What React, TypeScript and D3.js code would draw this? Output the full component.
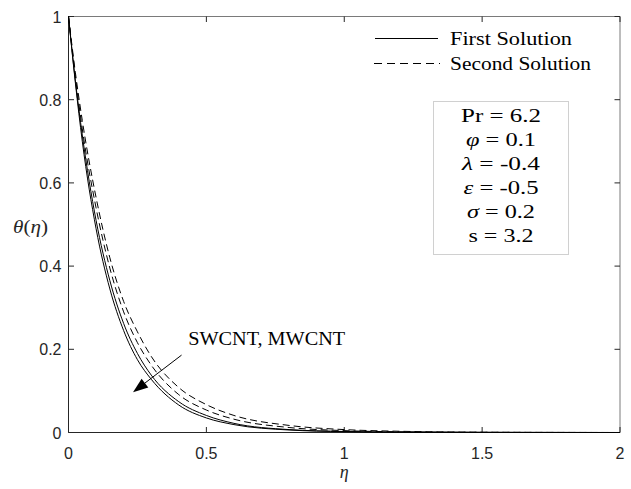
import React from "react";
import * as d3 from "d3";

const eta = [0, 0.025, 0.05, 0.1, 0.15, 0.2, 0.25, 0.3, 0.4, 0.5, 0.6, 0.8, 1.0, 1.2, 1.5, 2.0];
const swcntFirst = [1, 0.84, 0.70, 0.49, 0.345, 0.245, 0.175, 0.128, 0.066, 0.035, 0.019, 0.006, 0.002, 0.0007, 0.0002, 0];
const mwcntFirst = [1, 0.845, 0.715, 0.51, 0.365, 0.262, 0.19, 0.138, 0.074, 0.041, 0.022, 0.007, 0.0025, 0.0008, 0.0002, 0];
const swcntSecond = [1, 0.855, 0.73, 0.54, 0.395, 0.29, 0.216, 0.162, 0.091, 0.054, 0.032, 0.012, 0.0045, 0.0017, 0.0004, 0];
const mwcntSecond = [1, 0.865, 0.75, 0.565, 0.42, 0.315, 0.242, 0.183, 0.108, 0.067, 0.041, 0.017, 0.007, 0.003, 0.0008, 0];

const xTicks = [0, 0.5, 1, 1.5, 2];
const xTickLabels = ["0", "0.5", "1", "1.5", "2"];
const yTicks = [0, 0.2, 0.4, 0.6, 0.8, 1];
const yTickLabels = ["0", "0.2", "0.4", "0.6", "0.8", "1"];

const series = [
  { name: "SWCNT first", values: swcntFirst, dashed: false },
  { name: "MWCNT first", values: mwcntFirst, dashed: false },
  { name: "SWCNT second", values: swcntSecond, dashed: true },
  { name: "MWCNT second", values: mwcntSecond, dashed: true },
];

const legendLabels = ["First Solution", "Second Solution"];

const params = [
  { sym: "Pr", italic: false, val: "6.2" },
  { sym: "\u03C6", italic: true, val: "0.1" },
  { sym: "\u03BB", italic: true, val: "-0.4" },
  { sym: "\u03B5", italic: true, val: "-0.5" },
  { sym: "\u03C3", italic: true, val: "0.2" },
  { sym: "s", italic: false, val: "3.2" },
];
const paramWidths = [80, 70, 78, 75, 68, 65];

const annotText = "SWCNT, MWCNT";
const annotFrom = [0.41, 0.186];
const annotTip = [0.234, 0.097];
const annotLabel = [0.434, 0.21];

export default function App() {
  const W = 631, H = 489;
  const L = 68.5, R = 620, T = 16.5, B = 432.5;
  const x = d3.scaleLinear().domain([0, 2]).range([L, R]);
  const y = d3.scaleLinear().domain([0, 1]).range([B, T]);
  const line = d3
    .line<number>()
    .x((_, i) => x(eta[i]))
    .y((d) => y(d))
    .curve(d3.curveMonotoneX);
  const axisColor = "#262626";
  const serif = "'Liberation Serif', 'Times New Roman', serif";
  const sans = "'Liberation Sans', Arial, sans-serif";
  const tl = 5.5;

  // arrow
  const ax0 = x(annotFrom[0]), ay0 = y(annotFrom[1]);
  const ax1 = x(annotTip[0]), ay1 = y(annotTip[1]);
  const ang = Math.atan2(ay1 - ay0, ax1 - ax0);
  const hl = 15, hw = 5.5;
  const bx = ax1 - hl * Math.cos(ang), by = ay1 - hl * Math.sin(ang);
  const px = -Math.sin(ang), py = Math.cos(ang);
  const head = `${ax1},${ay1} ${bx + hw * px},${by + hw * py} ${bx - hw * px},${by - hw * py}`;

  const boxL = 433.5, boxR = 568.5, boxT = 101.5, boxB = 254.5;
  const cx = (boxL + boxR) / 2;

  return (
    <svg
      width={W}
      height={H}
      style={{ position: "absolute", left: 0, top: 0, background: "#fff" }}
    >
      <rect x={0} y={0} width={W} height={H} fill="#fff" />
      {/* box */}
      <line x1={L} x2={R} y1={T} y2={T} stroke="#7a7a7a" />
      <line x1={R} x2={R} y1={T} y2={B} stroke="#7a7a7a" />
      <line x1={L} x2={L} y1={T} y2={B} stroke={axisColor} />
      <line x1={L} x2={R} y1={B} y2={B} stroke={axisColor} />
      {/* ticks */}
      {xTicks.map((t, i) => (
        <g key={"xt" + i}>
          <line x1={x(t)} x2={x(t)} y1={B} y2={B - tl} stroke={axisColor} />
          <line x1={x(t)} x2={x(t)} y1={T} y2={T + tl} stroke={axisColor} />
          <text x={x(t)} y={B + 26} textAnchor="middle" fontFamily={sans} fontSize={16} fill={axisColor}>
            {xTickLabels[i]}
          </text>
        </g>
      ))}
      {yTicks.map((t, i) => (
        <g key={"yt" + i}>
          <line x1={L} x2={L + tl} y1={y(t)} y2={y(t)} stroke={axisColor} />
          <line x1={R} x2={R - tl} y1={y(t)} y2={y(t)} stroke={axisColor} />
          <text x={L - 7} y={y(t) + 6} textAnchor="end" fontFamily={sans} fontSize={16} fill={axisColor}>
            {yTickLabels[i]}
          </text>
        </g>
      ))}
      {/* curves */}
      {series.map((s) => (
        <path
          key={s.name}
          d={line(s.values) || ""}
          fill="none"
          stroke="#000"
          strokeWidth={1}
          strokeDasharray={s.dashed ? "7,4" : undefined}
        />
      ))}
      {/* axis labels */}
      <text x={(L + R) / 2} y={478} textAnchor="middle" fontFamily={serif} fontStyle="italic" fontSize={18} fill={axisColor}>
        η
      </text>
      <text x={13} y={233} fontFamily={serif} fontSize={18} fill={axisColor} textLength={35} lengthAdjust="spacingAndGlyphs">
        <tspan fontStyle="italic">θ</tspan>(<tspan fontStyle="italic">η</tspan>)
      </text>
      {/* legend */}
      <line x1={375} x2={438} y1={38.5} y2={38.5} stroke="#000" strokeWidth={1} />
      <text x={450} y={45} fontFamily={serif} fontSize={19} fill="#000" textLength={122} lengthAdjust="spacingAndGlyphs">
        {legendLabels[0]}
      </text>
      <line x1={374} x2={440} y1={63.5} y2={63.5} stroke="#000" strokeWidth={1} strokeDasharray="8,5" />
      <text x={450} y={70} fontFamily={serif} fontSize={19} fill="#000" textLength={141} lengthAdjust="spacingAndGlyphs">
        {legendLabels[1]}
      </text>
      {/* parameter box */}
      <rect x={boxL} y={boxT} width={boxR - boxL} height={boxB - boxT} fill="#fff" stroke="#d0d0d0" strokeWidth={1} />
      {params.map((p, i) => (
        <text
          key={"p" + i}
          x={cx}
          y={122 + i * 24}
          textAnchor="middle"
          fontFamily={serif}
          fontSize={19}
          fill="#000"
          textLength={paramWidths[i]}
          lengthAdjust="spacingAndGlyphs"
        >
          <tspan fontStyle={p.italic ? "italic" : "normal"}>{p.sym}</tspan>
          {" = " + p.val}
        </text>
      ))}
      {/* annotation */}
      <text
        x={x(annotLabel[0])}
        y={y(annotLabel[1])}
        fontFamily={serif}
        fontSize={19}
        fill="#000"
        textLength={157}
        lengthAdjust="spacingAndGlyphs"
      >
        {annotText}
      </text>
      <line x1={ax0} y1={ay0} x2={bx} y2={by} stroke="#000" strokeWidth={1} />
      <polygon points={head} fill="#000" />
    </svg>
  );
}
